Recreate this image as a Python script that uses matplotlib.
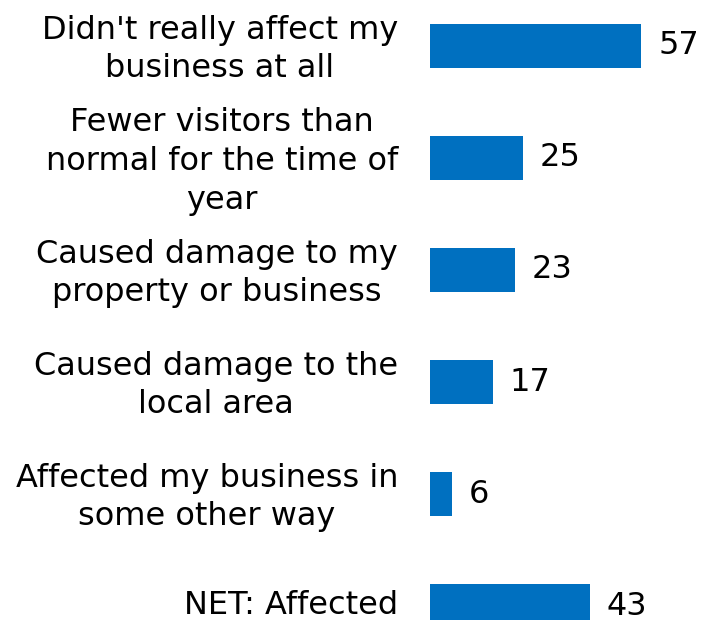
import numpy as np
import matplotlib.pyplot as plt
from matplotlib.transforms import offset_copy

categories = ["Didn't really affect my\nbusiness at all",
              "Fewer visitors than\nnormal for the time of\nyear",
              "Caused damage to my\nproperty or business",
              "Caused damage to the\nlocal area",
              "Affected my business in\nsome other way",
              "NET: Affected"]
values = [57, 25, 23, 17, 6, 43]

W, H = 702, 620
fig = plt.figure(figsize=(W / 100, H / 100), dpi=100)
ax = fig.add_axes([430 / W, 0, 1 - 430 / W, 1])

y = np.arange(len(values))
bars = ax.barh(y, values, height=44 / 112, color='#0070C0')
ax.set_xlim(0, (W - 430) / 3.71)
ax.set_ylim((H - 46) / 112, -46 / 112)

# category labels, right aligned left of the bars, lines centred
tr = offset_copy(ax.get_yaxis_transform(), fig=fig, x=-32, y=4, units='dots')
for yi, cat in zip(y, categories):
    ax.text(0, yi, cat, transform=tr, ha='right', va='center_baseline',
            multialignment='center', linespacing=1.32, fontsize=23,
            color='black')

ax.set_xticks([])
ax.set_yticks([])
for s in ax.spines.values():
    s.set_visible(False)

ax.bar_label(bars, labels=[str(v) for v in values], padding=12, fontsize=23)

fig.savefig('out.png', dpi=100)
